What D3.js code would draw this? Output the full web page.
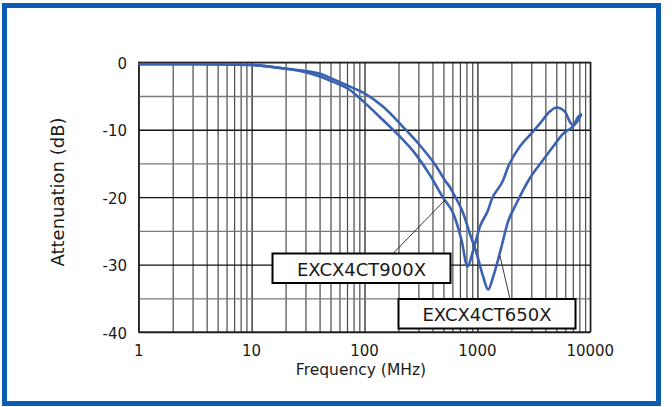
<!DOCTYPE html>
<html>
<head>
<meta charset="utf-8">
<script src="https://cdn.jsdelivr.net/npm/d3@7"></script>
<style>
    body { margin: 0; background: #fff; }
    text { font-family: Verdana, "DejaVu Sans", sans-serif; fill: #1a1a1a; }
</style>
</head>
<body>
<svg id="chart" width="672" height="407"></svg>
<script>
// values (frequency in MHz, attenuation in dB)
const freq900 = [1, 3.5, 10, 19, 28.7, 40.3, 52.8, 74.3, 97.4, 146.5, 192, 289, 379, 497, 610, 724, 818, 917, 1051, 1245, 1334, 1690, 1872, 2376, 2912, 3573, 4377, 5020, 5946, 6580, 7040, 7800, 8360];
const att900 = [-0.3, -0.3, -0.4, -0.9, -1.4, -2.1, -2.9, -4.1, -5.8, -8.6, -10.5, -13.8, -16.7, -20.1, -22.4, -26.4, -30.3, -27.9, -24.4, -21.9, -20.4, -17.5, -15.5, -12.5, -10.8, -9.1, -7.3, -6.7, -7.3, -8.8, -9.3, -8.1, -7.6];
const freq650 = [1, 3.5, 10, 19, 28.7, 40.3, 52.8, 74.3, 97.4, 146.5, 220, 309, 435, 515, 570, 610, 748, 857, 983, 1125, 1245, 1379, 1580, 1872, 2222, 2912, 3820, 4688, 5743, 6820, 7800, 8360];
const att650 = [-0.3, -0.3, -0.4, -0.9, -1.25, -1.7, -2.5, -3.6, -4.5, -6.6, -9.6, -12.3, -15.5, -17.5, -18.5, -19.4, -22.4, -25.4, -28.3, -31.8, -33.7, -31.8, -28.3, -23.6, -20.9, -17.2, -14.5, -12.5, -10.6, -9.7, -8.6, -7.7];
const seriesNames = ["EXCX4CT900X", "EXCX4CT650X"];
const xTickValues = [1, 10, 100, 1000, 10000];
const yTickValues = [0, -10, -20, -30, -40];
const yGridValues = [0, -5, -10, -15, -20, -25, -30, -35, -40];

const svg = d3.select("#chart");
const plotLeft = 138.7, plotRight = 590.3, plotTop = 62.3, plotBottom = 332;

const x = d3.scaleLog().domain([1, 10000]).range([plotLeft, plotRight]);
const y = d3.scaleLinear().domain([-40, 0]).range([plotBottom, plotTop]);

// blue frame
svg.append("rect")
    .attr("x", 4.5).attr("y", 5.5)
    .attr("width", 654).attr("height", 398)
    .attr("fill", "#fff")
    .attr("stroke", "#0b5db3")
    .attr("stroke-width", 5);

// vertical grid
const isDecade = (v) => Math.abs(Math.log10(v) - Math.round(Math.log10(v))) < 1e-9;
const gx = svg.append("g")
    .attr("transform", `translate(0,${plotBottom})`)
    .call(d3.axisBottom(x).tickSize(-(plotBottom - plotTop)).tickFormat(""));
gx.select(".domain").remove();
gx.selectAll("line")
    .attr("stroke", (d) => isDecade(d) ? "#111" : "#4a4a4a")
    .attr("stroke-width", 1.2);

// horizontal grid
const gy = svg.append("g")
    .attr("transform", `translate(${plotLeft},0)`)
    .call(d3.axisLeft(y).tickValues(yGridValues).tickSize(-(plotRight - plotLeft)).tickFormat(""));
gy.select(".domain").remove();
gy.selectAll("line")
    .attr("stroke", (d) => d % 10 === 0 ? "#111" : "#7a7a7a")
    .attr("stroke-width", 1.3);

// plot border
svg.append("rect")
    .attr("x", plotLeft).attr("y", plotTop)
    .attr("width", plotRight - plotLeft).attr("height", plotBottom - plotTop)
    .attr("fill", "none")
    .attr("stroke", "#222")
    .attr("stroke-width", 1.3);

// tick labels
svg.append("g").selectAll("text")
    .data(xTickValues)
    .enter()
    .append("text")
    .attr("x", (d) => x(d))
    .attr("y", 355.5)
    .attr("text-anchor", "middle")
    .style("font-size", "15px")
    .text((d) => d);

svg.append("g").selectAll("text")
    .data(yTickValues)
    .enter()
    .append("text")
    .attr("x", 127)
    .attr("y", (d) => y(d) + 6.5)
    .attr("text-anchor", "end")
    .style("font-size", "15px")
    .text((d) => d);

// axis titles
svg.append("text")
    .attr("x", 361).attr("y", 374.5)
    .attr("text-anchor", "middle")
    .style("font-size", "15.5px")
    .text("Frequency (MHz)");

svg.append("text")
    .attr("transform", "translate(64,192) rotate(-90)")
    .attr("text-anchor", "middle")
    .style("font-size", "18px")
    .text("Attenuation (dB)");

// curves
const line = d3.line()
    .x((d) => x(d[0]))
    .y((d) => y(d[1]))
    .curve(d3.curveMonotoneX);

const series = [
    d3.zip(freq900, att900),
    d3.zip(freq650, att650)
];

svg.append("g").selectAll("path")
    .data(series)
    .enter()
    .append("path")
    .attr("d", line)
    .attr("fill", "none")
    .attr("stroke", "#3a62b0")
    .attr("stroke-width", 2.6)
    .attr("stroke-linejoin", "round");

// callouts: leader line + boxed label
const callouts = [
    { name: seriesNames[0], box: [272.5, 253.5, 178, 29.5], from: [393, 253.5], to: [445, 200] },
    { name: seriesNames[1], box: [398.5, 299, 177, 29.5], from: [510, 299], to: [500, 256] }
];

const cg = svg.append("g").selectAll("g")
    .data(callouts)
    .enter()
    .append("g");

cg.append("line")
    .attr("x1", (d) => d.from[0]).attr("y1", (d) => d.from[1])
    .attr("x2", (d) => d.to[0]).attr("y2", (d) => d.to[1])
    .attr("stroke", "#222")
    .attr("stroke-width", 0.9);

cg.append("rect")
    .attr("x", (d) => d.box[0]).attr("y", (d) => d.box[1])
    .attr("width", (d) => d.box[2]).attr("height", (d) => d.box[3])
    .attr("fill", "#fff")
    .attr("stroke", "#000")
    .attr("stroke-width", 2);

cg.append("text")
    .attr("x", (d) => d.box[0] + d.box[2] / 2)
    .attr("y", (d) => d.box[1] + d.box[3] / 2 + 7.5)
    .attr("text-anchor", "middle")
    .style("font-size", "18px")
    .text((d) => d.name);
</script>
</body>
</html>
